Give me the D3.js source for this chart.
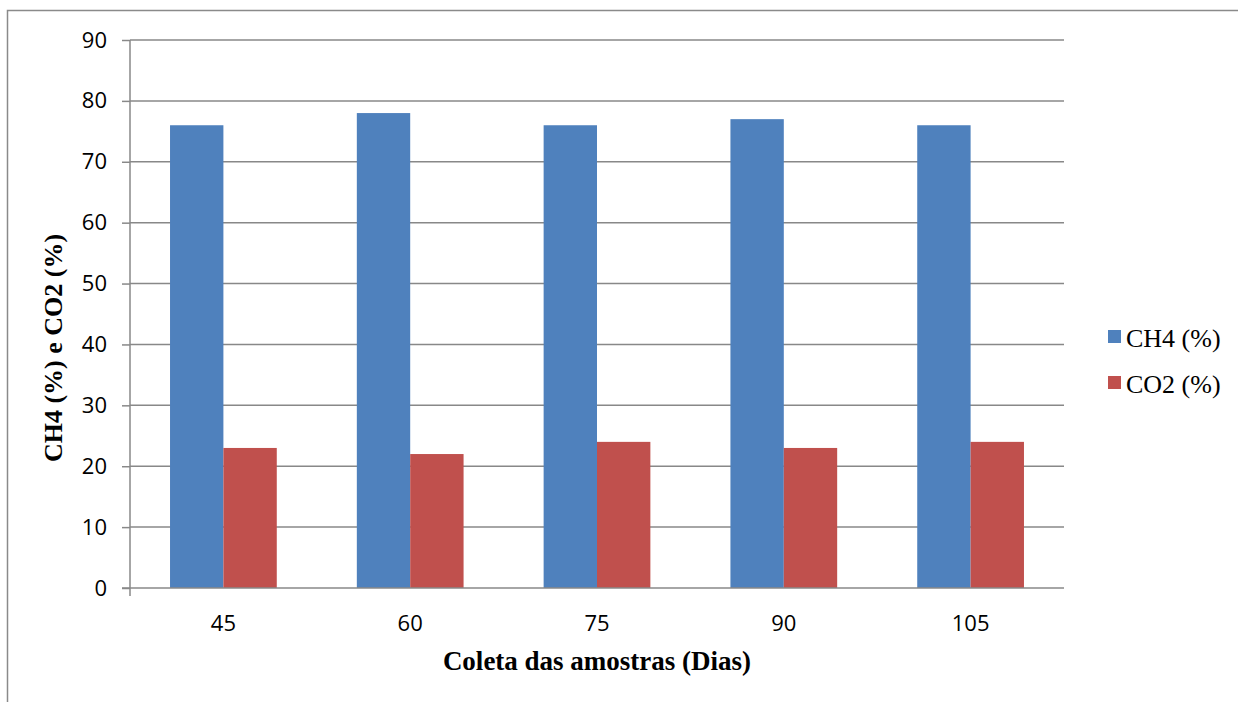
<!DOCTYPE html>
<html>
<head>
<meta charset="utf-8">
<script src="https://cdn.jsdelivr.net/npm/d3@7"></script>
<style>
  html, body { margin: 0; padding: 0; background: #fff; }
  svg { display: block; }
</style>
</head>
<body>
<svg id="chart" width="1238" height="702"></svg>
<script>
// Sampling days and gas composition of the biogas
const days = ["45", "60", "75", "90", "105"];
const ch4 = [76, 78, 76, 77, 76];
const co2 = [23, 22, 24, 23, 24];
const seriesNames = ["CH4 (%)", "CO2 (%)"];
const seriesColors = ["#4F81BD", "#C0504D"];
const yTicks = [0, 10, 20, 30, 40, 50, 60, 70, 80, 90];

const svg = d3.select("#chart");
const W = 1238, H = 702;
const plot = { left: 130, right: 1064, top: 40, bottom: 588 };

// Outer frame (top and left edges)
svg.append("path")
  .attr("d", `M7.5,${H} L7.5,10.5 L${W},10.5`)
  .attr("fill", "none")
  .attr("stroke", "#8a8a8a")
  .attr("stroke-width", 1.5);

const x0 = d3.scaleBand().domain(days).range([plot.left, plot.right]).paddingInner(0).paddingOuter(0);
// gap width 150% of a bar: two bars + 1.5 bar widths of gap per category
const x1 = d3.scaleBand().domain([0, 1]).range([0, x0.bandwidth()]).paddingInner(0).paddingOuter(0.75);
const y = d3.scaleLinear().domain([0, 90]).range([plot.bottom, plot.top]);

// Horizontal gridlines
svg.append("g")
  .selectAll("line")
  .data(yTicks.filter(d => d > 0))
  .join("line")
  .attr("x1", plot.left).attr("x2", plot.right)
  .attr("y1", d => y(d)).attr("y2", d => y(d))
  .attr("stroke", "#888")
  .attr("stroke-width", 1.5);

// Bars
const rows = days.map((d, i) => ({ day: d, vals: [ch4[i], co2[i]] }));
const groups = svg.append("g").selectAll("g")
  .data(rows).join("g")
  .attr("transform", d => `translate(${x0(d.day)},0)`);
groups.selectAll("rect")
  .data(d => d.vals.map((v, k) => ({ v, k })))
  .join("rect")
  .attr("x", d => x1(d.k))
  .attr("width", x1.bandwidth())
  .attr("y", d => y(d.v))
  .attr("height", d => y(0) - y(d.v))
  .attr("fill", d => seriesColors[d.k]);

// Y axis
const yAxis = d3.axisLeft(y).tickValues(yTicks).tickSize(8).tickPadding(15).tickFormat(d3.format("d"));
const gy = svg.append("g").attr("transform", `translate(${plot.left},0)`).call(yAxis);
gy.select(".domain").remove();
gy.append("line")
  .attr("x1", 0).attr("x2", 0)
  .attr("y1", plot.top).attr("y2", plot.bottom + 8)
  .attr("stroke", "#888").attr("stroke-width", 1.5);
gy.selectAll(".tick line").attr("stroke", "#888").attr("stroke-width", 1.5);
gy.selectAll(".tick text")
  .attr("font-family", "'Open Sans', sans-serif")
  .attr("font-size", 22)
  .attr("fill", "#000");

// X axis
const xAxis = d3.axisBottom(x0).tickSize(0).tickPadding(27);
const gx = svg.append("g").attr("transform", `translate(0,${plot.bottom})`).call(xAxis);
gx.select(".domain").remove();
gx.append("line")
  .attr("x1", plot.left - 8).attr("x2", plot.right)
  .attr("y1", 0).attr("y2", 0)
  .attr("stroke", "#888").attr("stroke-width", 1.5);
gx.selectAll(".tick text")
  .attr("font-family", "'Open Sans', sans-serif")
  .attr("font-size", 22)
  .attr("fill", "#000");

// Axis titles
svg.append("text")
  .attr("x", 597)
  .attr("y", 670)
  .attr("text-anchor", "middle")
  .attr("font-family", "'Liberation Serif', 'Times New Roman', serif")
  .attr("font-weight", "bold")
  .attr("font-size", 27)
  .text("Coleta das amostras (Dias)");

svg.append("text")
  .attr("transform", "translate(62,348) rotate(-90)")
  .attr("text-anchor", "middle")
  .attr("font-family", "'Liberation Serif', 'Times New Roman', serif")
  .attr("font-weight", "bold")
  .attr("font-size", 26)
  .text("CH4 (%) e CO2 (%)");

// Legend
const legend = svg.append("g").attr("transform", "translate(1108,330)");
const items = legend.selectAll("g").data(seriesNames).join("g")
  .attr("transform", (d, i) => `translate(0,${i * 46})`);
items.append("rect")
  .attr("width", 13).attr("height", 13)
  .attr("fill", (d, i) => seriesColors[i]);
items.append("text")
  .attr("x", 18).attr("y", 17)
  .attr("font-family", "'Liberation Serif', 'Times New Roman', serif")
  .attr("font-size", 26)
  .text(d => d);
</script>
</body>
</html>
